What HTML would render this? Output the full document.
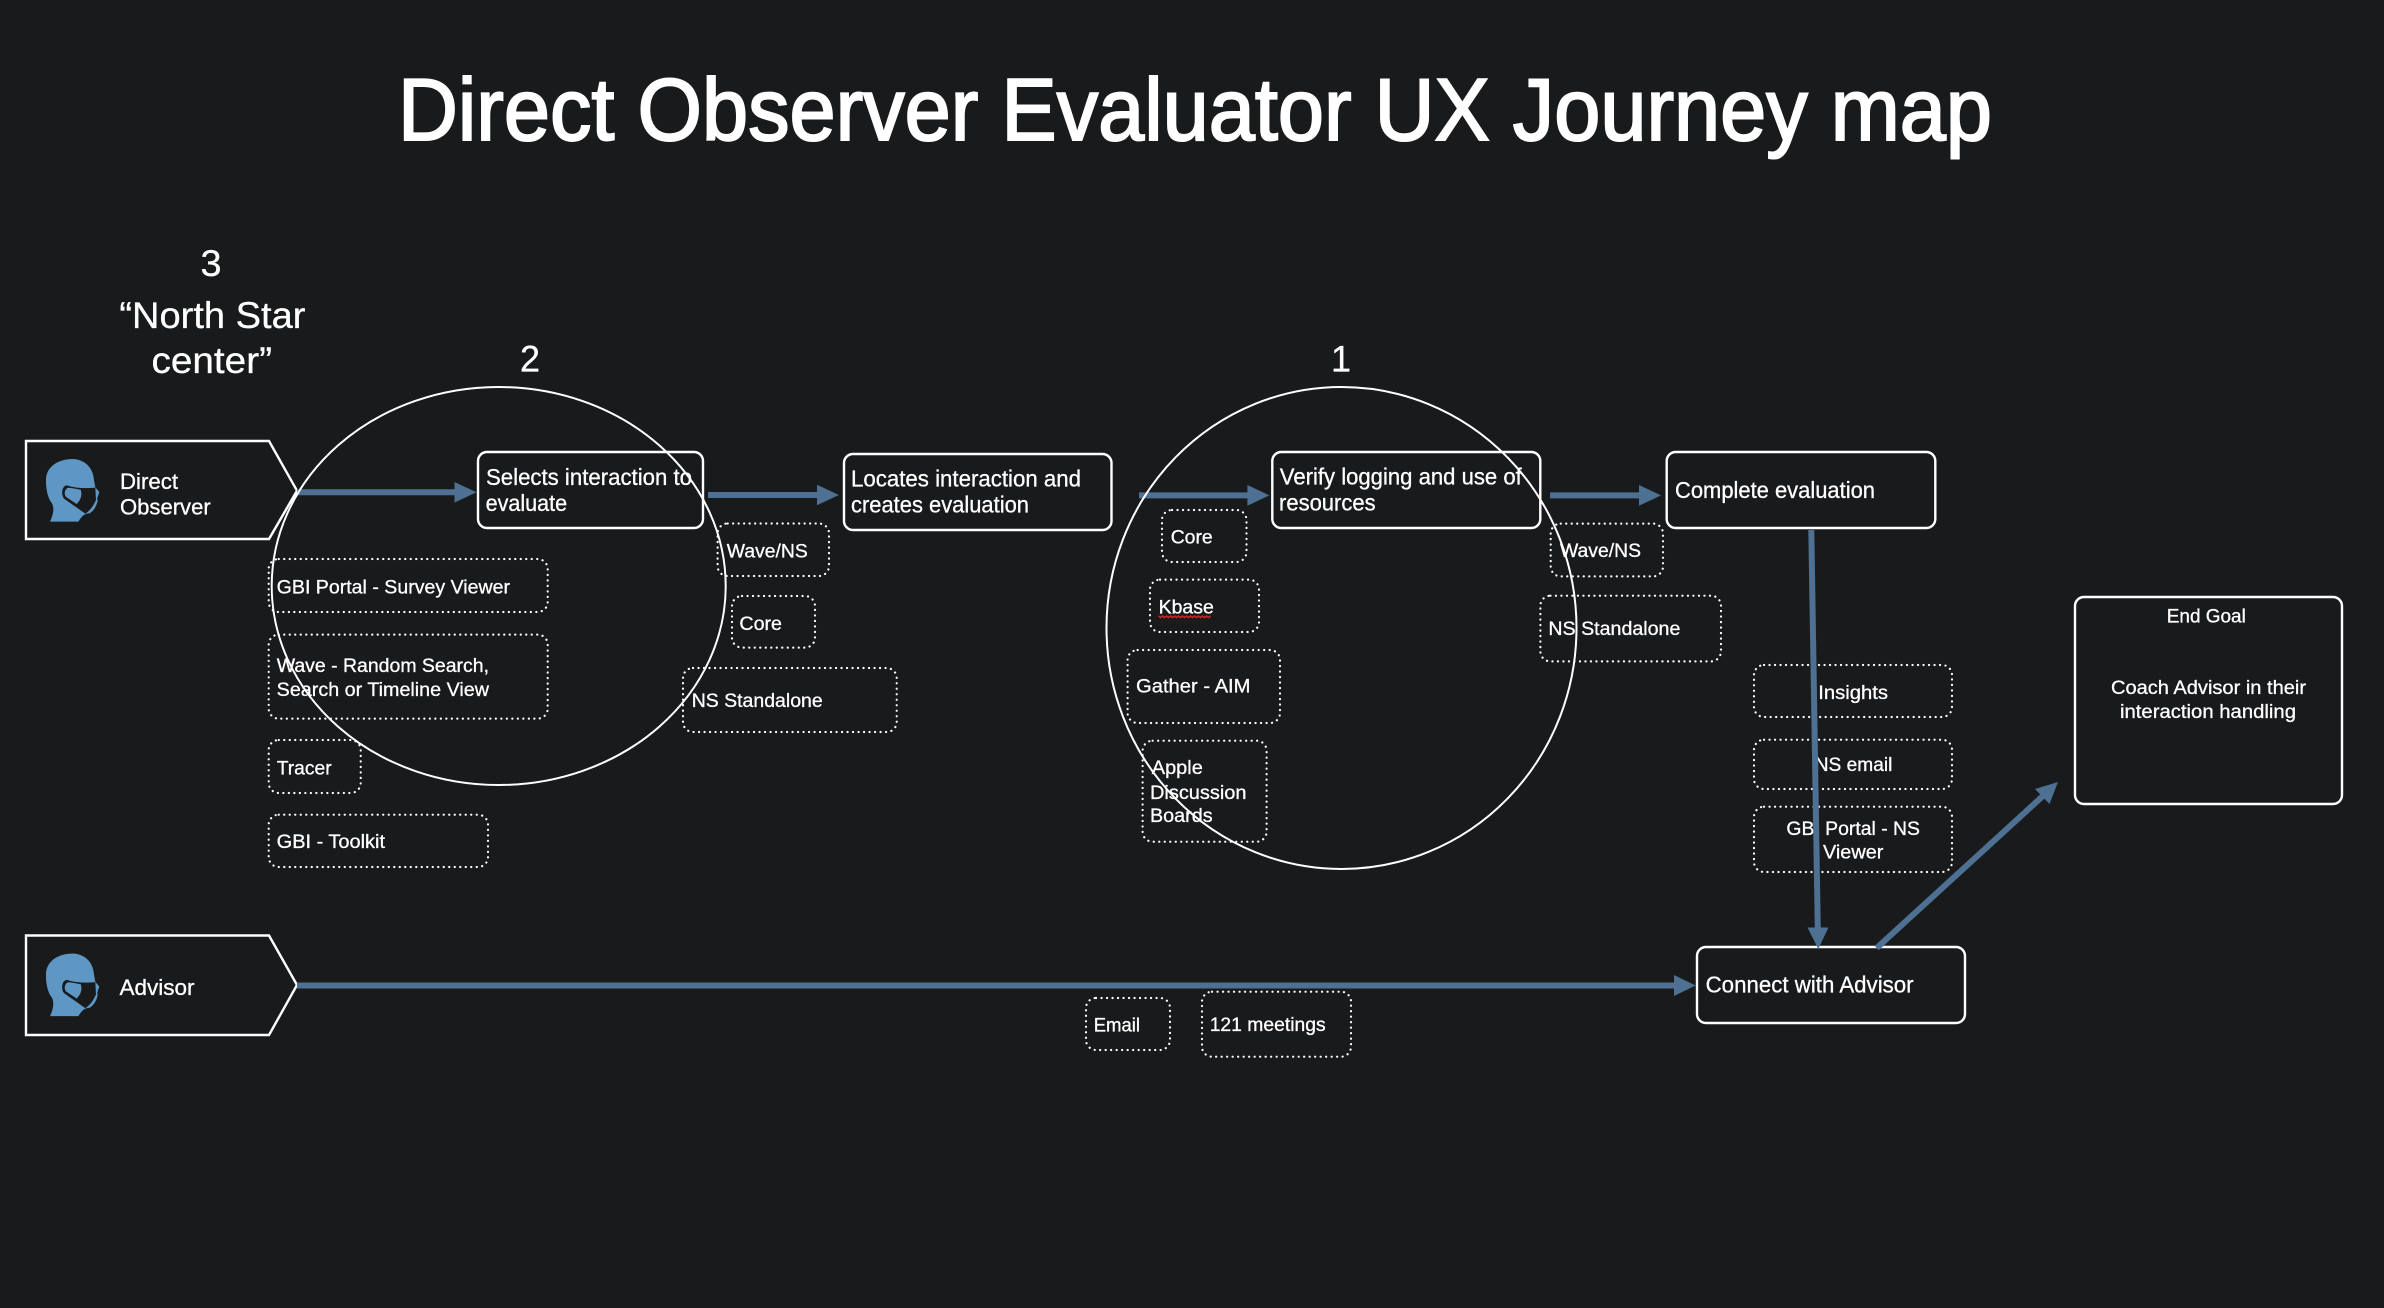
<!DOCTYPE html>
<html lang="en">
<head>
<meta charset="utf-8">
<title>Direct Observer Evaluator UX Journey map</title>
<style>
html,body{margin:0;padding:0;width:2384px;height:1308px;background:#191a1c;overflow:hidden}
svg{display:block}
text{font-family:"Liberation Sans",sans-serif;fill:#fff;stroke:#fff;stroke-width:.3}
.s{font-size:19.5px}
.b{font-size:23px}
.n{font-size:22px}
.h{font-size:37px}
.solid{fill:none;stroke:#fff;stroke-width:2.4}
.dot{fill:none;stroke:#fff;stroke-width:2.2;stroke-linecap:round;stroke-dasharray:.1 5.4}
.ring{fill:none;stroke:#fff;stroke-width:2}
.ln{stroke:#4d7093;stroke-width:6;fill:none}
.hd{fill:#4d7093}
</style>
</head>
<body>
<svg xmlns="http://www.w3.org/2000/svg" width="2384" height="1308" viewBox="0 0 2384 1308">
<rect width="2384" height="1308" fill="#191a1c"/>

<defs>
<g id="face" transform="translate(10,420) scale(0.3333)">
<path fill="#5f97c4" d="M120,305 C132,280 132,262 126,250 C112,232 107,205 108,175 C112,135 150,117 190,117 C230,120 250,148 252,180 L256,202 L268,216 L262,234 L262,245 C258,262 248,276 234,280 C222,282 214,290 205,305 Z"/>
<path fill="#191a1c" d="M170,196 C195,204 225,206 256,203 L258,240 C250,258 240,272 226,281 L162,236 C152,222 156,198 170,196 Z"/>
<path fill="#5f97c4" d="M172,204 C162,212 162,226 170,232 L200,252 C212,240 218,226 212,209 C198,207 182,202 172,204 Z"/>
<path fill="none" stroke="#5f97c4" stroke-width="3" d="M236,280 C250,272 258,258 262,240"/>
</g>
</defs>

<!-- title -->
<text x="398" y="140" font-size="88" textLength="1594" lengthAdjust="spacingAndGlyphs" style="stroke-width:2">Direct Observer Evaluator UX Journey map</text>

<!-- headings -->
<text class="h" x="200.500" y="276" textLength="21" lengthAdjust="spacingAndGlyphs">3</text>
<text class="h" x="119.400" y="328" textLength="186" lengthAdjust="spacingAndGlyphs">“North Star</text>
<text class="h" x="151.500" y="373" textLength="120.500" lengthAdjust="spacingAndGlyphs">center”</text>
<text class="h" x="520" y="371.500" textLength="20" lengthAdjust="spacingAndGlyphs">2</text>
<text class="h" x="1331" y="371.500" textLength="20" lengthAdjust="spacingAndGlyphs">1</text>

<!-- actors -->
<path class="solid" d="M26,441 H269 L297,490.700 L269,539 H26 Z"/>
<path class="solid" d="M26,935.500 H269 L297,985 L269,1035 H26 Z"/>
<use href="#face"/>
<use href="#face" y="494.500"/>
<text class="n" x="120" y="489" textLength="58" lengthAdjust="spacingAndGlyphs">Direct</text>
<text class="n" x="120" y="514.700" textLength="90.700" lengthAdjust="spacingAndGlyphs">Observer</text>
<text class="n" x="119.500" y="995" textLength="75" lengthAdjust="spacingAndGlyphs">Advisor</text>

<!-- process boxes -->
<rect class="solid" x="478" y="452" width="225" height="76" rx="9"/>
<rect class="solid" x="844" y="454" width="267.500" height="76" rx="9"/>
<rect class="solid" x="1272.300" y="452" width="268" height="76" rx="9"/>
<rect class="solid" x="1666.700" y="452" width="268.600" height="76" rx="9"/>
<rect class="solid" x="1697" y="947" width="268" height="76" rx="9"/>
<rect class="solid" x="2075" y="597" width="267" height="207" rx="9"/>

<text class="b" x="486" y="485" textLength="206" lengthAdjust="spacingAndGlyphs">Selects interaction to</text>
<text class="b" x="485.600" y="511" textLength="81.500" lengthAdjust="spacingAndGlyphs">evaluate</text>
<text class="b" x="851" y="486.400" textLength="230" lengthAdjust="spacingAndGlyphs">Locates interaction and</text>
<text class="b" x="851" y="512.500" textLength="178" lengthAdjust="spacingAndGlyphs">creates evaluation</text>
<text class="b" x="1279.800" y="484.600" textLength="242" lengthAdjust="spacingAndGlyphs">Verify logging and use of</text>
<text class="b" x="1279" y="510.700" textLength="96.600" lengthAdjust="spacingAndGlyphs">resources</text>
<text class="b" x="1675" y="498" textLength="200" lengthAdjust="spacingAndGlyphs">Complete evaluation</text>
<text class="b" x="1705.600" y="992.700" textLength="208" lengthAdjust="spacingAndGlyphs">Connect with Advisor</text>
<text class="s" x="2166.800" y="622.700" textLength="79" lengthAdjust="spacingAndGlyphs">End Goal</text>
<text class="s" x="2111" y="694" textLength="195" lengthAdjust="spacingAndGlyphs">Coach Advisor in their</text>
<text class="s" x="2120" y="718" textLength="176" lengthAdjust="spacingAndGlyphs">interaction handling</text>

<!-- dotted boxes -->
<rect class="dot" x="268.700" y="559" width="279" height="53" rx="10"/>
<rect class="dot" x="268.700" y="634.600" width="279" height="84" rx="10"/>
<rect class="dot" x="268.700" y="740" width="92" height="53" rx="10"/>
<rect class="dot" x="268.700" y="814.700" width="219.300" height="52.300" rx="10"/>
<rect class="dot" x="717.600" y="523.500" width="111.400" height="52.500" rx="10"/>
<rect class="dot" x="732" y="596" width="83" height="51.600" rx="10"/>
<rect class="dot" x="683" y="668" width="213.700" height="64" rx="10"/>
<rect class="dot" x="1162" y="510" width="84.500" height="52" rx="10"/>
<rect class="dot" x="1150" y="579.600" width="109" height="52.400" rx="10"/>
<rect class="dot" x="1127.600" y="650" width="152.400" height="73" rx="10"/>
<rect class="dot" x="1142.600" y="740.700" width="124" height="101" rx="10"/>
<rect class="dot" x="1550.700" y="523.600" width="112.300" height="52.800" rx="10"/>
<rect class="dot" x="1540.400" y="595.700" width="180.600" height="65.700" rx="10"/>
<rect class="dot" x="1754" y="665" width="198" height="52" rx="10"/>
<rect class="dot" x="1754" y="739.700" width="198" height="49.300" rx="10"/>
<rect class="dot" x="1754" y="806.700" width="198" height="65.300" rx="10"/>
<rect class="dot" x="1086" y="998" width="84" height="52" rx="10"/>
<rect class="dot" x="1202" y="991.700" width="149" height="65" rx="10"/>

<text class="s" x="276.700" y="593.700" textLength="233.300" lengthAdjust="spacingAndGlyphs">GBI Portal - Survey Viewer</text>
<text class="s" x="276.700" y="672" textLength="212.300" lengthAdjust="spacingAndGlyphs">Wave - Random Search,</text>
<text class="s" x="276.700" y="696" textLength="212.300" lengthAdjust="spacingAndGlyphs">Search or Timeline View</text>
<text class="s" x="276.700" y="774.700" textLength="55" lengthAdjust="spacingAndGlyphs">Tracer</text>
<text class="s" x="276.700" y="848" textLength="108.300" lengthAdjust="spacingAndGlyphs">GBI - Toolkit</text>
<text class="s" x="726.800" y="557.500" textLength="81" lengthAdjust="spacingAndGlyphs">Wave/NS</text>
<text class="s" x="739.400" y="630" textLength="42.600" lengthAdjust="spacingAndGlyphs">Core</text>
<text class="s" x="691.700" y="707" textLength="131" lengthAdjust="spacingAndGlyphs">NS Standalone</text>
<text class="s" x="1170.700" y="543.600" textLength="42" lengthAdjust="spacingAndGlyphs">Core</text>
<text class="s" x="1158.600" y="613.600" textLength="55.200" lengthAdjust="spacingAndGlyphs">Kbase</text>
<path d="M1158.600,616 l2,1.500 l2,-1.500 l2,1.500 l2,-1.500 l2,1.500 l2,-1.500 l2,1.500 l2,-1.500 l2,1.500 l2,-1.500 l2,1.500 l2,-1.500 l2,1.500 l2,-1.500 l2,1.500 l2,-1.500 l2,1.500 l2,-1.500 l2,1.500 l2,-1.500 l2,1.500 l2,-1.500 l2,1.500 l2,-1.500 l2,1.500 l2,-1.500" fill="none" stroke="#d0242a" stroke-width="1.500"/>
<text class="s" x="1136" y="692.500" textLength="114.500" lengthAdjust="spacingAndGlyphs">Gather - AIM</text>
<text class="s" x="1151.800" y="774" textLength="51" lengthAdjust="spacingAndGlyphs">Apple</text>
<text class="s" x="1150" y="799" textLength="96.500" lengthAdjust="spacingAndGlyphs">Discussion</text>
<text class="s" x="1150" y="822" textLength="62.600" lengthAdjust="spacingAndGlyphs">Boards</text>
<text class="s" x="1560" y="556.800" textLength="81" lengthAdjust="spacingAndGlyphs">Wave/NS</text>
<text class="s" x="1548.400" y="635" textLength="132" lengthAdjust="spacingAndGlyphs">NS Standalone</text>
<text class="s" x="1818.300" y="699" textLength="69.700" lengthAdjust="spacingAndGlyphs">Insights</text>
<text class="s" x="1814.700" y="771" textLength="77.700" lengthAdjust="spacingAndGlyphs">NS email</text>
<text class="s" x="1786.400" y="835" textLength="133.600" lengthAdjust="spacingAndGlyphs">GBI Portal - NS</text>
<text class="s" x="1823" y="858.700" textLength="60.400" lengthAdjust="spacingAndGlyphs">Viewer</text>
<text class="s" x="1093.700" y="1031.700" textLength="46.300" lengthAdjust="spacingAndGlyphs">Email</text>
<text class="s" x="1209.700" y="1031" textLength="116" lengthAdjust="spacingAndGlyphs">121 meetings</text>

<!-- connectors -->
<path class="ln" d="M297,492.300 H456"/>
<path class="hd" d="M454.500,482 L476.500,492.300 L454.500,502.600 Z"/>
<path class="ln" d="M708,495 H819"/>
<path class="hd" d="M817,484.700 L839,495 L817,505.300 Z"/>
<path class="ln" d="M1139,495.400 H1249"/>
<path class="hd" d="M1247.400,485 L1269.400,495.400 L1247.400,505.800 Z"/>
<path class="ln" d="M1550,495.400 H1641"/>
<path class="hd" d="M1639,485 L1661,495.400 L1639,505.800 Z"/>
<path class="ln" d="M1811.300,530 L1817.800,930"/>
<path class="hd" d="M1807.500,927.500 L1818.300,949 L1828.500,927.500 Z"/>
<path class="ln" d="M1876.700,948 L2044,795"/>
<path class="hd" d="M2035,789 L2058,782 L2049.500,804 Z"/>
<path class="ln" d="M297,985.500 H1676"/>
<path class="hd" d="M1674,975 L1695.700,985.500 L1674,996 Z"/>

<!-- circles -->
<ellipse class="ring" cx="498.700" cy="586" rx="227" ry="199"/>
<ellipse class="ring" cx="1341.500" cy="628" rx="235" ry="241"/>
</svg>
</body>
</html>
